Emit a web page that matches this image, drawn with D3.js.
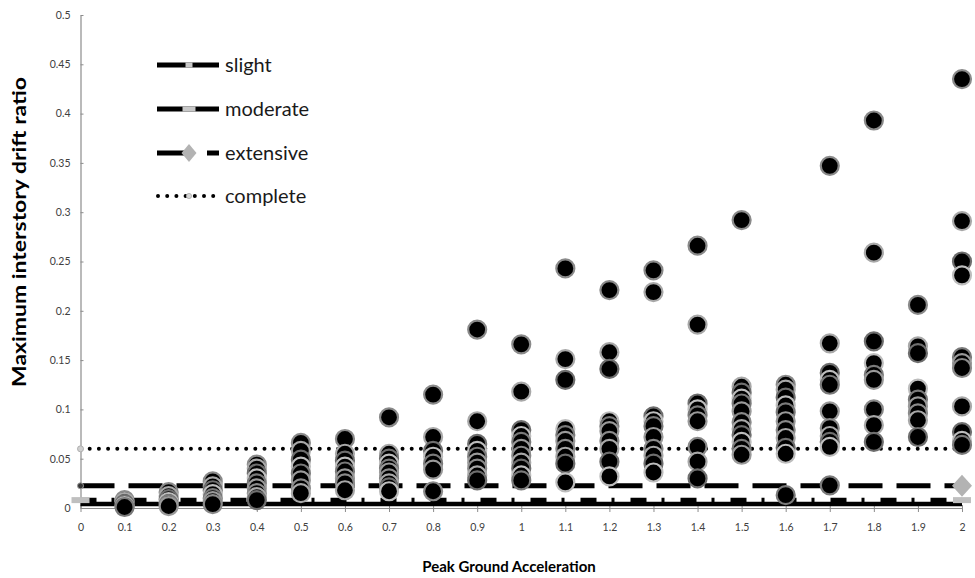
<!DOCTYPE html>
<html>
<head>
<meta charset="utf-8">
<script src="https://cdn.jsdelivr.net/npm/d3@7"></script>
<style>
  html, body { margin: 0; padding: 0; background: #fff; }
  svg { display: block; }
  text { font-family: Lato, "Open Sans", sans-serif; }
</style>
</head>
<body>
<svg id="chart" width="975" height="578"></svg>
<script>
// Peak ground acceleration levels (g)
const pgaLevels = [0.1, 0.2, 0.3, 0.4, 0.5, 0.6, 0.7, 0.8, 0.9, 1.0,
                   1.1, 1.2, 1.3, 1.4, 1.5, 1.6, 1.7, 1.8, 1.9, 2.0];

// Maximum interstory drift ratio recorded at each PGA level
const driftByPga = [
  [0.008, 0.006, 0.004, 0.002, 0.001],
  [0.016, 0.012, 0.009, 0.006, 0.004, 0.002],
  [0.027, 0.022, 0.018, 0.014, 0.010, 0.007, 0.004],
  [0.044, 0.040, 0.035, 0.030, 0.025, 0.020, 0.015, 0.011, 0.008],
  [0.066, 0.058, 0.049, 0.042, 0.035, 0.028, 0.020, 0.015],
  [0.070, 0.055, 0.048, 0.042, 0.037, 0.030, 0.025, 0.018],
  [0.092, 0.055, 0.050, 0.045, 0.040, 0.036, 0.030, 0.025, 0.021, 0.017],
  [0.115, 0.072, 0.058, 0.052, 0.045, 0.039, 0.017],
  [0.181, 0.088, 0.065, 0.058, 0.052, 0.046, 0.040, 0.033, 0.028],
  [0.166, 0.118, 0.079, 0.073, 0.067, 0.060, 0.053, 0.046, 0.040, 0.033, 0.028],
  [0.243, 0.151, 0.130, 0.080, 0.074, 0.068, 0.060, 0.052, 0.045, 0.026],
  [0.221, 0.158, 0.141, 0.088, 0.083, 0.078, 0.068, 0.060, 0.047, 0.032],
  [0.241, 0.219, 0.093, 0.088, 0.083, 0.072, 0.060, 0.053, 0.045, 0.036],
  [0.266, 0.186, 0.106, 0.100, 0.094, 0.088, 0.062, 0.047, 0.030],
  [0.292, 0.123, 0.117, 0.111, 0.106, 0.098, 0.087, 0.080, 0.074, 0.067, 0.060, 0.054],
  [0.125, 0.120, 0.112, 0.104, 0.097, 0.088, 0.079, 0.071, 0.061, 0.055, 0.013],
  [0.347, 0.167, 0.137, 0.130, 0.125, 0.098, 0.081, 0.073, 0.067, 0.062, 0.023],
  [0.393, 0.259, 0.169, 0.147, 0.135, 0.130, 0.100, 0.084, 0.067],
  [0.206, 0.164, 0.157, 0.121, 0.110, 0.103, 0.096, 0.089, 0.072],
  [0.435, 0.291, 0.250, 0.236, 0.153, 0.147, 0.142, 0.103, 0.077, 0.068, 0.064]
];

// Damage limit-state thresholds (drift ratio)
const limitStates = ["slight", "moderate", "extensive", "complete"];
const limitValues = [0.004, 0.008, 0.0225, 0.06];

// Axis tick labels
const xTickLabels = ["0", "0.1", "0.2", "0.3", "0.4", "0.5", "0.6", "0.7", "0.8", "0.9", "1",
                     "1.1", "1.2", "1.3", "1.4", "1.5", "1.6", "1.7", "1.8", "1.9", "2"];
const yTickLabels = ["0", "0.05", "0.1", "0.15", "0.2", "0.25", "0.3", "0.35", "0.4", "0.45", "0.5"];

const svg = d3.select("#chart");
const plot = { left: 80.5, right: 962, top: 15, bottom: 508 };

const x = d3.scaleLinear().domain([0, 2]).range([plot.left, plot.right]);
const y = d3.scaleLinear().domain([0, 0.5]).range([plot.bottom, plot.top]);

const axisGrey = "#8c8c8c";
const labelGrey = "#404040";

// ---- axes ----
const yAxis = d3.axisLeft(y)
  .tickValues(yTickLabels.map(Number))
  .tickFormat((d, i) => yTickLabels[i])
  .tickSizeInner(-3).tickSizeOuter(0).tickPadding(10);
const gy = svg.append("g").attr("transform", `translate(${plot.left},0)`).call(yAxis);

const xAxis = d3.axisBottom(x)
  .tickValues(xTickLabels.map(Number))
  .tickFormat((d, i) => xTickLabels[i])
  .tickSizeInner(4).tickSizeOuter(0).tickPadding(12);
const gx = svg.append("g").attr("transform", `translate(0,${plot.bottom})`).call(xAxis);
gx.selectAll(".tick line").attr("y1", -3);

[gx, gy].forEach(g => {
  g.select(".domain").attr("stroke", axisGrey).attr("stroke-width", 1.2);
  g.selectAll(".tick line").attr("stroke", axisGrey).attr("stroke-width", 1);
  g.selectAll(".tick text")
    .attr("fill", labelGrey)
    .style("font-family", "Lato, sans-serif")
    .style("font-size", "10.5px");
});

// ---- limit-state threshold lines ----
const lineStyle = {
  slight:    { width: 4.5, dash: null, cap: "butt" },
  moderate:  { width: 4.5, dash: "16,15,3,16", cap: "butt" },
  extensive: { width: 5, dash: "34,14", cap: "butt" },
  complete:  { width: 4, dash: "0,9.2", cap: "round" }
};

const lineGen = d3.line().x(d => x(d[0])).y(d => y(d[1]));
const gLines = svg.append("g");
limitStates.forEach((name, i) => {
  const st = lineStyle[name];
  gLines.append("path")
    .datum([[0, limitValues[i]], [2, limitValues[i]]])
    .attr("d", lineGen)
    .attr("fill", "none")
    .attr("stroke", "#000")
    .attr("stroke-width", st.width)
    .attr("stroke-linecap", st.cap)
    .attr("stroke-dasharray", st.dash);
});

// ---- scatter points ----
const points = [];
pgaLevels.forEach((p, i) => driftByPga[i].forEach((v, j) => points.push({ pga: p, drift: v, k: j })));
const ringColors = ["#8a8a8a", "#a8a8a8", "#6e6e6e", "#bdbdbd", "#7a7a7a", "#9a9a9a"];

svg.append("g").selectAll("circle")
  .data(points)
  .join("circle")
  .attr("cx", d => x(d.pga))
  .attr("cy", d => y(d.drift))
  .attr("r", 9)
  .attr("fill", "#000")
  .attr("stroke", d => ringColors[d.k % ringColors.length])
  .attr("stroke-width", 2.2);

// diamond outline (square turned 45 degrees)
const diamond = (w, h) => `M0,${-h / 2}L${w / 2},0L0,${h / 2}L${-w / 2},0Z`;

// ---- end markers of the threshold lines ----
const gMarks = svg.append("g");
// moderate: grey dash markers at both ends
[0, 2].forEach(p => {
  gMarks.append("rect")
    .attr("x", x(p) - 9).attr("y", y(limitValues[1]) - 3)
    .attr("width", 18).attr("height", 6)
    .attr("fill", "#bfbfbf");
});
// extensive: small point at start, grey diamond at end
gMarks.append("circle")
  .attr("cx", x(0)).attr("cy", y(limitValues[2])).attr("r", 3)
  .attr("fill", "#333").attr("stroke", "#999").attr("stroke-width", 1);
gMarks.append("path")
  .attr("d", diamond(20, 22))
  .attr("transform", `translate(${x(2)},${y(limitValues[2])})`)
  .attr("fill", "#b3b3b3");
// complete: small grey point at start
gMarks.append("circle")
  .attr("cx", x(0)).attr("cy", y(limitValues[3])).attr("r", 3)
  .attr("fill", "#d0d0d0").attr("stroke", "#b0b0b0").attr("stroke-width", 1);

// ---- legend ----
const legend = svg.append("g").attr("transform", "translate(157,0)");
const legendY = [65, 109, 153, 196];
limitStates.forEach((name, i) => {
  const g = legend.append("g").attr("transform", `translate(0,${legendY[i]})`);
  if (name === "slight" || name === "moderate") {
    g.append("line").attr("x1", 0).attr("x2", 62).attr("stroke", "#000").attr("stroke-width", 5);
    const w = name === "slight" ? 7 : 13;
    g.append("rect").attr("x", 32 - w / 2).attr("y", -2.5).attr("width", w).attr("height", 5)
      .attr("fill", "#c8c8c8");
  } else if (name === "extensive") {
    g.append("line").attr("x1", 0).attr("x2", 36).attr("stroke", "#000").attr("stroke-width", 5);
    g.append("line").attr("x1", 50).attr("x2", 62).attr("stroke", "#000").attr("stroke-width", 5);
    g.append("path")
      .attr("d", diamond(15, 18))
      .attr("transform", "translate(32,0)")
      .attr("fill", "#b3b3b3");
  } else {
    g.append("line").attr("x1", 1).attr("x2", 62).attr("stroke", "#000").attr("stroke-width", 4)
      .attr("stroke-linecap", "round").attr("stroke-dasharray", "0,9.2");
    g.append("circle").attr("cx", 32).attr("cy", 0).attr("r", 2.6)
      .attr("fill", "#d8d8d8").attr("stroke", "#aaa").attr("stroke-width", 0.8);
  }
  g.append("text")
    .attr("x", 68).attr("y", 0).attr("dy", "0.35em")
    .attr("fill", "#1a1a1a")
    .style("font-size", "20px")
    .text(name);
});

// ---- axis titles ----
svg.append("text")
  .attr("transform", "translate(20,232) rotate(-90)")
  .attr("text-anchor", "middle")
  .attr("dy", "0.35em")
  .attr("textLength", 310)
  .attr("lengthAdjust", "spacingAndGlyphs")
  .attr("fill", "#000")
  .style("font-weight", "bold")
  .style("font-size", "18px")
  .text("Maximum interstory drift ratio");

svg.append("text")
  .attr("x", 509).attr("y", 572)
  .attr("text-anchor", "middle")
  .attr("fill", "#000")
  .style("font-weight", "bold")
  .style("font-size", "15px")
  .text("Peak Ground Acceleration");
</script>
</body>
</html>
